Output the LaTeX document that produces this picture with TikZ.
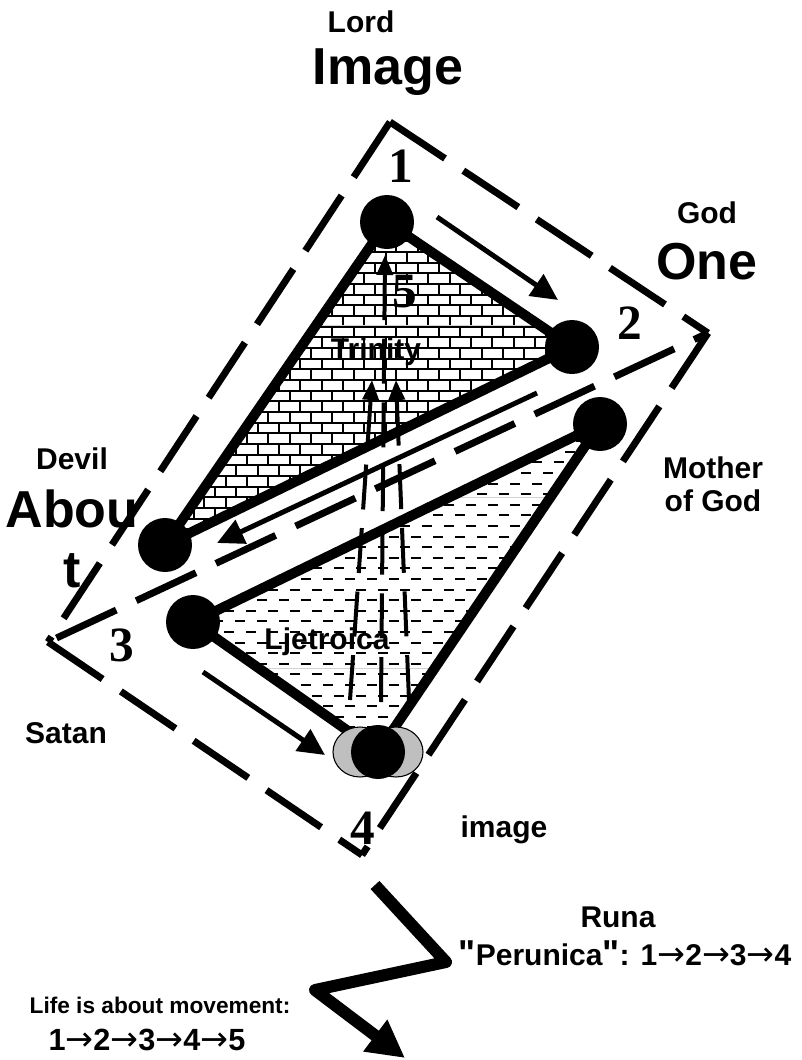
\documentclass[tikz,border=0pt]{standalone}
\usepackage{fontspec}
\setmainfont{Liberation Sans}
\newfontfamily\numfont{Liberation Serif}
\newfontfamily\arrfont{DejaVu Sans}
\newfontfamily\qfont[Ligatures=TeXOff]{Liberation Sans}
\newcommand\rarr{{\arrfont\mdseries\fontsize{25}{25}\selectfont\symbol{"2192}}}
\newcommand\dq{{\qfont\bfseries\fontsize{27}{27}\selectfont\symbol{"22}}}
\usetikzlibrary{arrows.meta}
\begin{document}
\begin{tikzpicture}[x=0.75pt,y=-0.75pt,
  dot/.style={circle, fill=black, inner sep=0pt, minimum size=40.5pt},
  edgeline/.style={line width=7.5pt, line join=round},
  rect/.style={line width=5.2pt, dash pattern=on 49.5pt off 16.5pt},
  flow/.style={line width=3.75pt, -{Triangle[length=20pt,width=19pt]}},
  upflow/.style={line width=3pt, dash pattern=on 33.75pt off 14pt, -{Triangle[length=15pt,width=12pt]}},
  brick/.style={line width=1.5pt},
  lbl/.style={font=\bfseries\fontsize{22.5}{24.75}\selectfont, inner sep=0pt},
  big/.style={font=\bfseries\fontsize{39}{45}\selectfont, inner sep=0pt},
  num/.style={font=\numfont\bfseries\fontsize{37}{40}\selectfont, inner sep=0pt},
  bolt/.style={line width=9pt, line join=round, -{Triangle[length=28pt,width=28pt]}}
]
\useasboundingbox (0,0) rectangle (801,1060);

% key points
\coordinate (n1) at (387,222);
\coordinate (n2) at (572,347);
\coordinate (n3) at (165,545);
\coordinate (n4) at (193,622);
\coordinate (n5) at (600,424);
\coordinate (n6) at (378,752);
\coordinate (T) at (390,122);
\coordinate (R) at (708,333);
\coordinate (B) at (362,855);
\coordinate (L) at (48,642);

% brick fill of upper triangle
\begin{scope}
  \clip (n1) -- (n2) -- (n3) -- cycle;
  \foreach \k in {-12,...,21}{
    \pgfmathsetmacro\yy{337.3+10.67*\k}
    \pgfmathsetmacro\off{10.67*mod(\k+100,2)}
    \draw[brick] (120,\yy) -- (640,\yy);
    \foreach \j in {-14,...,9}{
      \draw[brick] ({428.3+21.33*\j+\off},\yy) -- ++(0,10.67);
    }
  }
  \draw[gray!35, line width=0.6pt] (120,325) -- (640,325);
\end{scope}

% dash fill of lower triangle
\begin{scope}
  \clip (n5) -- (n4) -- (n6) -- cycle;
  \foreach \k in {0,...,32}{
    \pgfmathsetmacro\yy{420+10.6*\k}
    \pgfmathsetmacro\ph{8.25*mod(\k,2)}
    \draw[line width=1.6pt, dash pattern=on 7.5pt off 9pt, dash phase=\ph pt] (180,\yy) -- (640,\yy);
  }
  \draw[gray!35, line width=0.6pt] (150,497) -- (640,497);
  \draw[gray!35, line width=0.6pt] (150,668) -- (640,668);
\end{scope}

% dashed frame
\draw[rect] (T) -- (R);
\draw[rect] (T) -- (L);
\draw[rect] (R) -- (B);
\draw[rect] (L) -- (B);
\draw[rect, dash phase=38pt] (R) -- (L);

% triangles
\draw[edgeline] (n1) -- (n2) -- (n3) -- cycle;
\draw[edgeline] (n5) -- (n4) -- (n6) -- cycle;

% flow arrows
\coordinate (a1s) at (437,217); \coordinate (a1e) at (558,300);
\coordinate (a2s) at (537,393); \coordinate (a2e) at (217,543);
\coordinate (a3s) at (203,672); \coordinate (a3e) at (325,755);
\draw[flow] (a1s) -- (a1e);
\draw[flow] (a2s) -- (a2e);
\draw[flow] (a3s) -- (a3e);

% upward dashed arrows
\coordinate (v1s) at (350,700); \coordinate (v1e) at (372,380);
\coordinate (v2s) at (381,702); \coordinate (v2e) at (385,255);
\coordinate (v3s) at (409,700); \coordinate (v3e) at (396,380);
\draw[upflow] (v1s) -- (v1e);
\draw[upflow] (v2s) -- (v2e);
\draw[upflow] (v3s) -- (v3e);

% grey halo at bottom vertex
\filldraw[fill=gray!50, draw=black, line width=0.8pt] (360,752) ellipse [x radius=20.25pt, y radius=18.75pt];
\filldraw[fill=gray!50, draw=black, line width=0.8pt] (396,752) ellipse [x radius=20.25pt, y radius=18.75pt];

% vertices
\node[dot] (d1) at (n1) {};
\node[dot] (d2) at (n2) {};
\node[dot] (d3) at (n3) {};
\node[dot] (d4) at (n4) {};
\node[dot] (d5) at (n5) {};
\node[dot] (d6) at (n6) {};

% zigzag
\coordinate (z0) at (375,885);
\coordinate (z1) at (446,962);
\coordinate (z2) at (315,990);
\coordinate (z3) at (405,1058);
\draw[bolt] (z0) -- (z1) -- (z2) -- (z3);

% numbers
\node[num] (l1) at (401,166) {1};
\node[num] (l2) at (630,323) {2};
\node[num] (l3) at (122,645) {3};
\node[num] (l4) at (363,828) {4};
\node[num] (l5) at (405,292) {5};

% labels
\node[lbl] (lord) at (361,22) {Lord};
\node[big] (image) at (388,72) {Image};
\node[lbl] (god) at (707,213) {God};
\node[big] (one) at (707,262) {One};
\node[lbl] (devil) at (72,459) {Devil};
\node[big, align=center] (about) at (72,539) {Abou\\t};
\node[lbl, align=center] (mother) at (713,484) {Mother\\of God};
\node[lbl] (satan) at (66,733) {Satan};
\node[lbl] (img) at (504,830) {image};
\node[lbl] (trin) at (376,352) {Trinity};
\node[lbl] (lje) at (327,642) {Ljetroica};
\node[lbl] (runa) at (618,917) {Runa};
\node[lbl] (peru) at (625,953) {\dq Perunica\dq: 1\rarr2\rarr3\rarr4};
\node[font=\bfseries\fontsize{17}{20}\selectfont, inner sep=0pt] (life) at (160,1005) {Life is about movement:};
\node[font=\bfseries\fontsize{23}{26}\selectfont, inner sep=0pt] (seq) at (147,1040) {1\rarr2\rarr3\rarr4\rarr5};
\end{tikzpicture}
\end{document}
